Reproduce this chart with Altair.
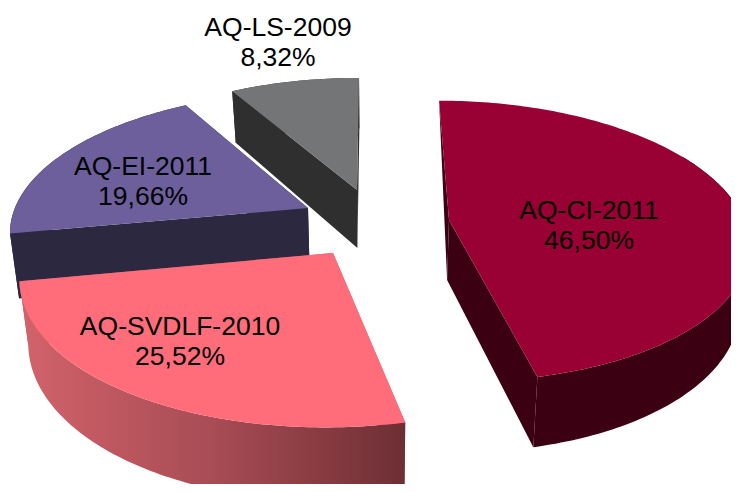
import math
import altair as alt

# ---- chart values
names = ["AQ-CI-2011", "AQ-SVDLF-2010", "AQ-EI-2011", "AQ-LS-2009"]
shares = [46.50, 25.52, 19.66, 8.32]

# ---- styles
top_colors = ["#990033", "#ff6d7b", "#6c5f9b", "#747576"]
face_colors = ["#3b0011", "#b24f57", "#2c2840", "#2f2f2f"]
pink_wall_stops = ["#d2636b", "#bd575f", "#a84c55", "#8c3d44", "#6c2f34"]

# ---- 3D view: exploded slice tips and radii, camera
tip_x = [449, 333, 308, 357]
tip_y = [220, 253, 208, 190]
radius_x = [295, 298, 297, 295]
radius_y = [295, 295, 295, 295]
depths = [60, 60, 64, 60]
label_x = [589, 180, 143, 278]
label_y = [211, 327, 167, 28]
VX, VY, Y0, DIST = 373.0, -695.0, 220.0, 1967.0
NARROW = 0.975
CI_WALL_FROM = 60  # degrees: the back of the big slice shows no outer wall


def screen(wx, wy, depth=0):
    s = DIST / (DIST - wy)
    sx = VX + (wx - VX) * s
    sy = VY + (Y0 - VY) * s
    if depth:
        sx = VX + (sx - VX) * NARROW
        sy += depth * s
    return [round(sx, 2), round(sy, 2)]


def world(sx, sy):
    s = (sy - VY) / (Y0 - VY)
    return VX + (sx - VX) / s, DIST * (1 - 1 / s)


def feature(points, fill):
    ring = points + [points[0]]
    return {
        "type": "Feature",
        "properties": {"fill": fill},
        "geometry": {"type": "Polygon", "coordinates": [ring]},
    }


slices = []
start = 0.0
for i, share in enumerate(shares):
    sweep = share * 3.6
    ax, ay = world(tip_x[i], tip_y[i])
    h = depths[i]
    n = max(int(sweep), 2)
    angles = [start + sweep * k / n for k in range(n + 1)]
    arc = [(ax + radius_x[i] * math.sin(math.radians(a)), ay - radius_y[i] * math.cos(math.radians(a))) for a in angles]
    wall_arc = [p for a, p in zip(angles, arc) if i != 0 or a >= CI_WALL_FROM]
    top = [screen(ax, ay)] + [screen(*p) for p in arc]
    wall = [screen(*p) for p in wall_arc] + [screen(*p, h) for p in reversed(wall_arc)]
    first = [screen(ax, ay), screen(*arc[0]), screen(ax, ay, h)]
    if i != 0:
        first = [screen(ax, ay), screen(*arc[0]), screen(*arc[0], h), screen(ax, ay, h)]
    last = [screen(ax, ay), screen(*arc[-1]), screen(*arc[-1], h), screen(ax, ay, h)]
    slices.append({"top": top, "wall": wall, "first": first, "last": last})
    start += sweep

CI, SV, EI, LS = 0, 1, 2, 3
back = []
for i in (LS, EI):
    back += [feature(slices[i][k], face_colors[i]) for k in ("first", "wall", "last")]
    back.append(feature(slices[i]["top"], top_colors[i]))
back += [feature(slices[SV][k], face_colors[SV]) for k in ("first", "last")]

front = [feature(slices[SV]["top"], top_colors[SV])]
front += [feature(slices[CI][k], face_colors[CI]) for k in ("first", "wall", "last")]
front.append(feature(slices[CI]["top"], top_colors[CI]))

labels = [
    {"label": f"{n}\n{v:.2f}%".replace(".", ","), "lon": x, "lat": y}
    for n, v, x, y in zip(names, shares, label_x, label_y)
]

proj = dict(type="identity", scale=1, translate=[-8, -8])
fill_field = alt.Fill("properties.fill:N", scale=None, legend=None)

back_layer = alt.Chart(alt.Data(values=back)).mark_geoshape(clip=True, strokeWidth=0).encode(fill=fill_field).project(**proj)
pink_wall = alt.Chart(alt.Data(values=[feature(slices[SV]["wall"], face_colors[SV])])).mark_geoshape(
    clip=True,
    strokeWidth=0,
    fill=alt.Gradient(
        gradient="linear",
        x1=0, x2=1, y1=0, y2=0,
        stops=[alt.GradientStop(offset=j / (len(pink_wall_stops) - 1), color=c) for j, c in enumerate(pink_wall_stops)],
    ),
).project(**proj)
front_layer = alt.Chart(alt.Data(values=front)).mark_geoshape(clip=True, strokeWidth=0).encode(fill=fill_field).project(**proj)
text_layer = alt.Chart(alt.Data(values=labels)).mark_text(
    font="Liberation Sans", fontSize=26.5, color="#000000", lineBreak="\n", lineHeight=30,
    align="center", baseline="middle",
).encode(longitude="lon:Q", latitude="lat:Q", text="label:N").project(**proj)

chart = alt.layer(back_layer, pink_wall, front_layer, text_layer).properties(
    width=723, height=476, padding=0, autosize=alt.AutoSizeParams(type="none"), background="white",
).configure_view(stroke=None)

chart.save("out.html", embed_options={"renderer": "svg", "actions": False})
